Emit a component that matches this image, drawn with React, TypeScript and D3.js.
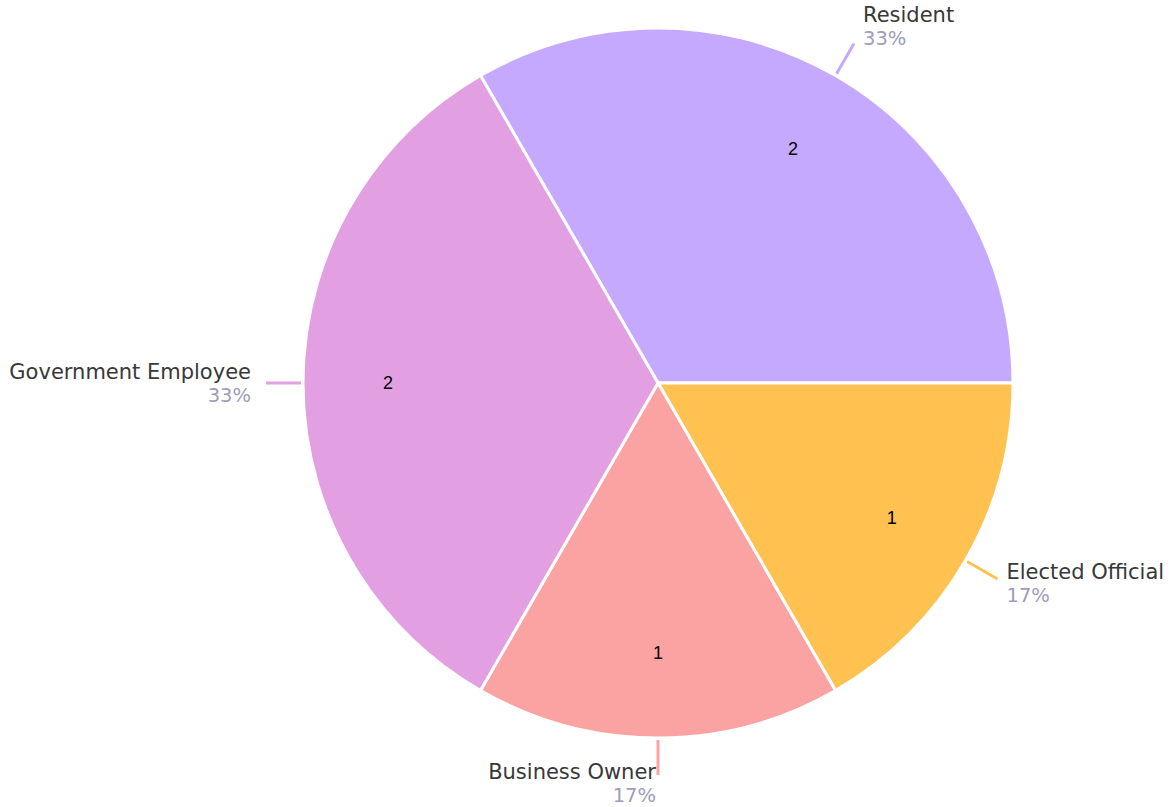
import React from 'react';
import * as d3 from 'd3';

const categories = ['Resident', 'Elected Official', 'Business Owner', 'Government Employee'];
const counts = [2, 1, 1, 2];
const colors = ['#C5A9FE', '#FFC250', '#FBA3A3', '#E2A0E3'];

const width = 1176, height = 807;
const cx = 658, cy = 383, radius = 355;
const labelFont = 'DejaVu Sans, Open Sans, sans-serif';

export default function App() {
  const total = d3.sum(counts);
  const pie = d3.pie<number>()
    .sort(null)
    .value(d => d)
    .startAngle(-Math.PI / 6)
    .endAngle(2 * Math.PI - Math.PI / 6);
  const arcs = pie(counts);
  const arcGen = d3.arc<d3.PieArcDatum<number>>().innerRadius(0).outerRadius(radius);

  return (
    <svg width={width} height={height} style={{ position: 'absolute', left: 0, top: 0 }}>
      <g transform={`translate(${cx},${cy})`}>
        {arcs.map((a, i) => (
          <path key={'s' + i} d={arcGen(a) || ''} fill={colors[i]} stroke="#fff" strokeWidth={3} />
        ))}
        {arcs.map((a, i) => {
          const mid = (a.startAngle + a.endAngle) / 2;
          const s = Math.sin(mid), c = -Math.cos(mid);
          const r0 = radius + 2, r1 = radius + 37;
          const x1 = s * r1, y1 = c * r1;
          const right = s > 0.01;
          const center = y1 + (c < 0 ? 20 * c : 8 * c);
          const tx = right ? x1 + 9 : x1 - (Math.abs(s) < 0.01 ? 2 : 15);
          const pct = Math.round((counts[i] / total) * 100) + '%';
          const vr = 270;
          return (
            <g key={'l' + i}>
              <line x1={s * r0} y1={c * r0} x2={x1} y2={y1} stroke={colors[i]} strokeWidth={3} />
              <text x={tx} y={center - 4} textAnchor={right ? 'start' : 'end'}
                fontFamily={labelFont} fontSize={21} fill="#383838">{categories[i]}</text>
              <text x={tx} y={center + 19} textAnchor={right ? 'start' : 'end'}
                fontFamily={labelFont} fontSize={19.5} fill="#9D9DB8">{pct}</text>
              <text x={s * vr} y={c * vr + 6} textAnchor="middle"
                fontFamily="Liberation Sans, Arial, sans-serif" fontSize={18} fill="#000">{counts[i]}</text>
            </g>
          );
        })}
      </g>
    </svg>
  );
}
